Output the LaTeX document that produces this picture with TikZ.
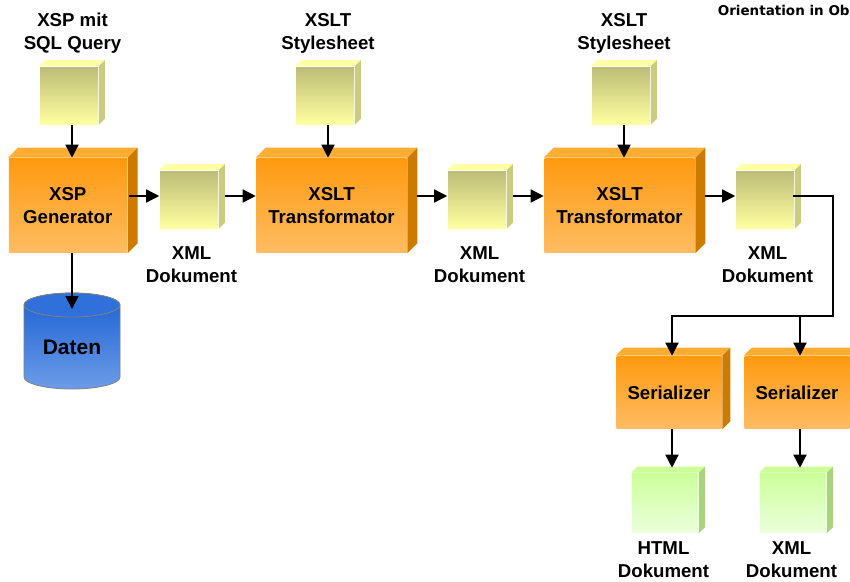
\documentclass[tikz,border=0pt]{standalone}
\usepackage{fontspec}
\setmainfont{Liberation Sans}
\newfontfamily\wideb{DejaVu Sans}
\usetikzlibrary{arrows.meta}
\definecolor{orangetop}{HTML}{FF9A10}
\definecolor{orangebot}{HTML}{FFBC62}
\definecolor{orangelid}{HTML}{FFAD33}
\definecolor{orangeside}{HTML}{CC7A00}
\definecolor{yellowtop}{HTML}{BDBD78}
\definecolor{yellowbot}{HTML}{FFFFA0}
\definecolor{yellowlid}{HTML}{FFFFA6}
\definecolor{yellowside}{HTML}{CCCC80}
\definecolor{greentop}{HTML}{CCFF99}
\definecolor{greenbot}{HTML}{EBFFDC}
\definecolor{greenside}{HTML}{A8D47C}
\definecolor{bluetop}{HTML}{1A60D2}
\definecolor{bluebot}{HTML}{6D9CE8}
\definecolor{bluelid}{HTML}{2F70DA}
\tikzset{%
	label/.style    	= {align = center, font = \bfseries\fontsize{18.65}{22.7}\selectfont},
	docblock/.style 	= {rectangle, inner sep = 0pt, minimum width = 58pt, minimum height = 57pt, top color = yellowtop, bottom color = yellowbot}, % Yellow document
	endblock/.style 	= {rectangle, inner sep = 0pt, minimum width = 66pt, minimum height = 59pt, top color = greentop, bottom color = greenbot}, % Green document
	genblock/.style 	= {rectangle, inner sep = 0pt, minimum width = 118pt, minimum height = 94pt, top color = orangetop, bottom color = orangebot, label},
	trfblock/.style 	= {genblock, minimum width = 150pt},
	serblock/.style 	= {genblock, minimum width = 105pt, minimum height = 72pt}
}
% Lid and side of a box: node, depth, lid colour, side colour
\newcommand{\boxfaces}[4]{%
	\fill[#3] (#1.north west) -- ([shift={(#2pt,#2pt)}]#1.north west) -- ([shift={(#2pt,#2pt)}]#1.north east) -- (#1.north east) -- cycle;
	\fill[#4] (#1.north east) -- ([shift={(#2pt,#2pt)}]#1.north east) -- ([shift={(#2pt,#2pt)}]#1.south east) -- (#1.south east) -- cycle;
}
\begin{document}
\begin{tikzpicture}[x=1pt, y=-1pt, auto, >={Triangle[length=13pt, width=13pt]}, line width=1.6pt]
	\clip (0,0) rectangle (850,581);
	\draw % Drawing the boxes
	node at (69,95.5) [docblock] (sqldoc) {}
	node at (325,95.5) [docblock] (stylea) {}
	node at (621,95.5) [docblock] (styleb) {}
	node at (67.75,205.5) [genblock] (xspgen) {XSP\\Generator}
	node at (189,199.5) [docblock] (xmla) {}
	node at (331.5,205.5) [trfblock] (trfa) {XSLT\\Transformator}
	node at (477,199.5) [docblock] (xmlb) {}
	node at (619.5,205.5) [trfblock] (trfb) {XSLT\\Transformator}
	node at (765,199.5) [docblock] (xmlc) {}
	node at (669,392.5) [serblock] (sera) {Serializer}
	node at (797,392.5) [serblock] (serb) {Serializer}
	node at (665,503) [endblock] (htmlend) {}
	node at (793,503) [endblock] (xmlend) {}
	;

	% Drawing the lids and sides
	\boxfaces{sqldoc}{6}{yellowlid}{yellowside}
	\boxfaces{stylea}{6}{yellowlid}{yellowside}
	\boxfaces{styleb}{6}{yellowlid}{yellowside}
	\boxfaces{xmla}{6}{yellowlid}{yellowside}
	\boxfaces{xmlb}{6}{yellowlid}{yellowside}
	\boxfaces{xmlc}{6}{yellowlid}{yellowside}
	\boxfaces{xspgen}{10}{orangelid}{orangeside}
	\boxfaces{trfa}{10}{orangelid}{orangeside}
	\boxfaces{trfb}{10}{orangelid}{orangeside}
	\boxfaces{sera}{8}{orangelid}{orangeside}
	\boxfaces{serb}{8}{orangelid}{orangeside}
	\boxfaces{htmlend}{6}{greentop}{greenside}
	\boxfaces{xmlend}{6}{greentop}{greenside}

	% Drawing the database
	\path[draw=gray, line width=0.8pt, top color=bluetop, bottom color=bluebot]
		(24,377) arc[start angle=180, end angle=360, x radius=48pt, y radius=12pt]
		-- (120,305) arc[start angle=0, end angle=180, x radius=48pt, y radius=12pt] -- cycle;
	\path[draw=gray, line width=0.8pt, fill=bluelid] (72,305) ellipse[x radius=48pt, y radius=12pt];
	\node at (72,347) [font=\bfseries\fontsize{21}{25}\selectfont] (daten) {Daten};
	\coordinate (datentop) at (72,309);

	% Drawing the labels
	\draw
	node at (72.5,33.5) [label] (sqllab) {XSP mit\\SQL Query}
	node at (328,33.5) [label] (stylealab) {XSLT\\Stylesheet}
	node at (624,33.5) [label] (styleblab) {XSLT\\Stylesheet}
	node at (191.5,265) [label] (xmlalab) {XML\\Dokument}
	node at (479.5,265) [label] (xmlblab) {XML\\Dokument}
	node at (767.5,265) [label] (xmlclab) {XML\\Dokument}
	node at (663.5,560) [label] (htmllab) {HTML\\Dokument}
	node at (791.5,560) [label] (xmlendlab) {XML\\Dokument}
	node at (717,10) [anchor=west, inner sep=0pt, font=\wideb\bfseries\fontsize{13.5}{15}\selectfont] (orient) {Orientation in Ob}
	;

	% Drawing the arrows
	\draw[->] ([xshift=3pt]sqldoc.south) -- ([xshift=4.25pt]xspgen.north);
	\draw[->] ([xshift=3pt]stylea.south) -- ([xshift=-3.5pt]trfa.north);
	\draw[->] ([xshift=3pt]styleb.south) -- ([xshift=4.5pt]trfb.north);
	\draw[->] ([shift={(1.5pt,9.5pt)}]xspgen.east) -- ([yshift=3.5pt]xmla.west);
	\draw[->] ([shift={(6.5pt,3.5pt)}]xmla.east) -- ([yshift=9.5pt]trfa.west);
	\draw[->] ([shift={(9.5pt,9.5pt)}]trfa.east) -- ([yshift=3.5pt]xmlb.west);
	\draw[->] ([shift={(6.5pt,3.5pt)}]xmlb.east) -- ([yshift=9.5pt]trfb.west);
	\draw[->] ([shift={(9.5pt,9.5pt)}]trfb.east) -- ([yshift=3.5pt]xmlc.west);
	\draw[->] ([xshift=4.25pt]xspgen.south) -- (datentop);
	\draw[->] ([shift={(-1.5pt,3.5pt)}]xmlc.east) -| (833,316) -| ([xshift=3pt]sera.north);
	\draw[->] (800,316) -- ([xshift=3pt]serb.north);
	\draw[->] ([xshift=3pt]sera.south) -- ([xshift=7pt,yshift=5pt]htmlend.north);
	\draw[->] ([xshift=3pt]serb.south) -- ([xshift=7pt,yshift=5pt]xmlend.north);
\end{tikzpicture}
\end{document}
